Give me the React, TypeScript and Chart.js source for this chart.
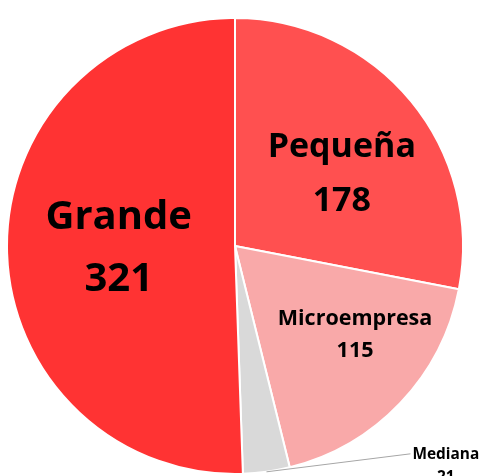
import React, { useEffect, useRef } from "react";
import { Chart, registerables } from "chart.js";

Chart.register(...registerables);

const categories = ["Pequeña", "Microempresa", "Mediana", "Grande"];
const values = [178, 115, 21, 321];
const colors = ["#FF5050", "#F9A9A9", "#D9D9D9", "#FF3333"];

// label styles: font size, line gap, radial fraction, angle tweak (deg), outside flag
const labelStyles = [
  { size: 34, gap: 54, frac: 0.57, dAng: 4.8, outside: false },
  { size: 21.5, gap: 32, frac: 0.65, dAng: -7.6, outside: false },
  { size: 15.4, gap: 23, frac: 1, dAng: 0, outside: true, dx: 146, dy: -18 },
  { size: 40, gap: 62, frac: 0.51, dAng: 1, outside: false },
];

const FONT = '"Open Sans", "DejaVu Sans", sans-serif';

const labelPlugin = {
  id: "sliceLabels",
  afterDatasetsDraw(chart: any) {
    const ctx = chart.ctx;
    const meta = chart.getDatasetMeta(0);
    meta.data.forEach((arc: any, i: number) => {
      const st: any = labelStyles[i];
      const p = arc.getProps(["x", "y", "startAngle", "endAngle", "outerRadius"], true);
      const mid = (p.startAngle + p.endAngle) / 2 + (st.dAng * Math.PI) / 180;
      const cap = st.size * 0.714;
      const lines = [categories[i], String(values[i])];
      ctx.save();
      ctx.fillStyle = "#000";
      ctx.font = `bold ${st.size}px ${FONT}`;
      if (!st.outside) {
        const cx = p.x + Math.cos(mid) * p.outerRadius * st.frac;
        const cy = p.y + Math.sin(mid) * p.outerRadius * st.frac;
        const top = cy - (cap + st.gap) / 2;
        ctx.textAlign = "center";
        ctx.textBaseline = "alphabetic";
        ctx.fillText(lines[0], cx, top + cap);
        ctx.fillText(lines[1], cx, top + cap + st.gap);
      } else {
        const ex = p.x + Math.cos(mid) * p.outerRadius;
        const ey = p.y + Math.sin(mid) * p.outerRadius;
        const lx = ex + st.dx;
        const ly = ey + st.dy;
        ctx.strokeStyle = "#A6A6A6";
        ctx.lineWidth = 1;
        ctx.beginPath();
        ctx.moveTo(ex, ey);
        ctx.lineTo(lx - 2, ly);
        ctx.stroke();
        const w0 = ctx.measureText(lines[0]).width;
        const cx = lx + w0 / 2;
        const b1 = ly + cap / 2;
        ctx.textAlign = "center";
        ctx.textBaseline = "alphabetic";
        ctx.fillText(lines[0], cx, b1);
        ctx.fillText(lines[1], cx, b1 + st.gap);
      }
      ctx.restore();
    });
  },
};

export default function App() {
  const ref = useRef<HTMLCanvasElement>(null);
  useEffect(() => {
    if (!ref.current) return;
    const chart = new Chart(ref.current, {
      type: "pie",
      data: {
        labels: categories,
        datasets: [
          {
            data: values,
            backgroundColor: colors,
            borderColor: "#FFFFFF",
            borderWidth: 2,
            hoverOffset: 0,
          },
        ],
      },
      options: {
        responsive: false,
        animation: false,
        radius: 228,
        layout: { padding: { left: 8, right: 20, top: 19, bottom: 3 } },
        plugins: {
          legend: { display: false },
          tooltip: { enabled: false },
        },
      } as any,
      plugins: [labelPlugin],
    });
    return () => chart.destroy();
  }, []);
  return (
    <div style={{ position: "absolute", left: 0, top: 0, width: 482, height: 476, background: "#fff" }}>
      <canvas ref={ref} width={482} height={476} style={{ display: "block" }} />
    </div>
  );
}
